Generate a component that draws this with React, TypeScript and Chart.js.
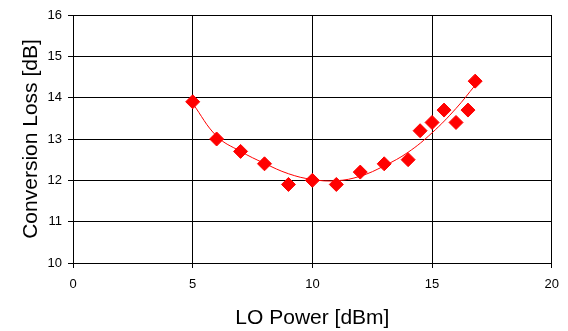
import React, { useEffect, useRef } from "react";
import { Chart, registerables } from "chart.js";

Chart.register(...registerables);

// Measured points
const loPower = [5, 6, 7, 8, 9, 10, 11, 12, 13, 14, 14.5, 15, 15.5, 16, 16.5, 16.8];
const convLoss = [13.9, 13.0, 12.7, 12.4, 11.9, 12.0, 11.9, 12.2, 12.4, 12.5, 13.2, 13.4, 13.7, 13.4, 13.7, 14.4];

// Trend curve
const fitX = [5, 6, 7, 8, 9, 10, 11, 12, 13, 14, 15, 16, 16.8];
const fitY = [13.86, 13.07, 12.7, 12.41, 12.16, 12.02, 11.99, 12.1, 12.35, 12.68, 13.15, 13.74, 14.3];

const xTicks = [0, 5, 10, 15, 20];
const yTicks = [10, 11, 12, 13, 14, 15, 16];

const xTitle = "LO Power [dBm]";
const yTitle = "Conversion Loss [dB]";

const FONT = "Arial, 'Liberation Sans', sans-serif";

export default function App() {
  const ref = useRef<HTMLCanvasElement | null>(null);

  useEffect(() => {
    if (!ref.current) return;
    const chart = new Chart(ref.current, {
      type: "scatter",
      data: {
        datasets: [
          {
            label: "Measured",
            data: loPower.map((x, i) => ({ x, y: convLoss[i] })),
            pointStyle: "rectRot",
            pointRadius: 7,
            pointBorderWidth: 1,
            backgroundColor: "#ff0000",
            borderColor: "#ff0000",
            showLine: false,
            order: 0,
          },
          {
            label: "Fit",
            data: fitX.map((x, i) => ({ x, y: fitY[i] })),
            showLine: true,
            pointRadius: 0,
            borderColor: "#ff0000",
            borderWidth: 1,
            tension: 0.4,
            fill: false,
            order: 1,
          },
        ],
      },
      options: {
        animation: false,
        responsive: false,
        layout: { padding: { left: 0, top: 15, right: 15, bottom: 0 } },
        plugins: { legend: { display: false }, tooltip: { enabled: false } },
        scales: {
          x: {
            type: "linear",
            min: 0,
            max: 20,
            afterBuildTicks: (s: any) => {
              s.ticks = xTicks.map((v) => ({ value: v }));
            },
            afterFit: (s: any) => {
              s.height = 68;
            },
            grid: { color: "#000", lineWidth: 1, tickLength: 5, drawTicks: true },
            border: { color: "#000", width: 1 },
            ticks: {
              color: "#000",
              font: { family: FONT, size: 13 },
              padding: 9,
              maxRotation: 0,
            },
            title: {
              display: true,
              text: xTitle,
              color: "#000",
              font: { family: FONT, size: 21 },
              padding: { top: 0, bottom: 0 },
            },
          },
          y: {
            type: "linear",
            min: 10,
            max: 16,
            afterBuildTicks: (s: any) => {
              s.ticks = yTicks.map((v) => ({ value: v }));
            },
            afterFit: (s: any) => {
              s.width = 73;
            },
            grid: { color: "#000", lineWidth: 1, tickLength: 5, drawTicks: true },
            border: { color: "#000", width: 1 },
            ticks: {
              color: "#000",
              font: { family: FONT, size: 13 },
              padding: 6,
            },
            title: {
              display: true,
              text: yTitle,
              color: "#000",
              font: { family: FONT, size: 21 },
              padding: { top: 19, bottom: 0 },
            },
          },
        },
      },
    });
    return () => chart.destroy();
  }, []);

  return (
    <div style={{ position: "absolute", left: 0, top: 0, width: 568, height: 331, background: "#fff" }}>
      <canvas ref={ref} width={568} height={331} style={{ width: 568, height: 331, display: "block" }} />
    </div>
  );
}
